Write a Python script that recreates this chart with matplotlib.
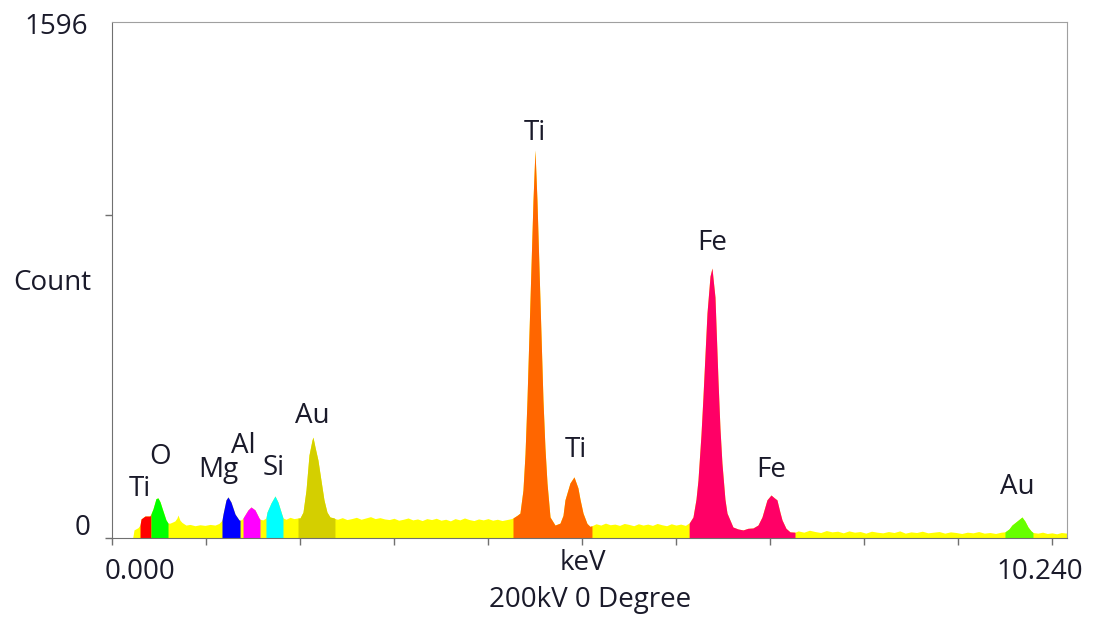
import matplotlib
matplotlib.use("Agg")
import matplotlib.pyplot as plt
import numpy as np

plt.rcParams['font.family'] = ['Open Sans', 'DejaVu Sans']

# ---- spectrum (energy in keV, counts) ----
energy_keV = [
    0.00, 0.20, 0.22, 0.234, 0.277, 0.298, 0.309, 0.351, 0.404, 0.415,
    0.436, 0.468, 0.489, 0.511, 0.532, 0.574, 0.596, 0.617, 0.649, 0.670,
    0.691, 0.702, 0.723, 0.745, 0.787, 0.830, 0.883, 0.936, 0.989, 1.043,
    1.096, 1.138, 1.170, 1.181, 1.213, 1.234, 1.266, 1.309, 1.351, 1.362,
    1.383, 1.394, 1.415, 1.447, 1.479, 1.521, 1.564, 1.574, 1.606, 1.638,
    1.649, 1.691, 1.734, 1.766, 1.809, 1.819, 1.851, 1.894, 1.936, 1.979,
    2.000, 2.032, 2.064, 2.096, 2.128, 2.138, 2.160, 2.191, 2.223, 2.255,
    2.287, 2.319, 2.362, 2.372,
    2.40, 2.45, 2.50, 2.55, 2.60, 2.65, 2.70, 2.75, 2.80, 2.85,
    2.90, 2.95, 3.00, 3.05, 3.10, 3.15, 3.20, 3.25, 3.30, 3.35,
    3.40, 3.45, 3.50, 3.55, 3.60, 3.65, 3.70, 3.75, 3.80, 3.85,
    3.90, 3.95, 4.00, 4.05, 4.10, 4.15, 4.20, 4.25,
    4.266, 4.309, 4.340, 4.372, 4.394, 4.415, 4.447, 4.479, 4.500, 4.521,
    4.553, 4.585, 4.606, 4.628, 4.660, 4.713, 4.766, 4.798, 4.819, 4.872,
    4.915, 4.957, 4.979, 5.011, 5.053, 5.085, 5.106,
    5.15, 5.20, 5.25, 5.30, 5.35, 5.40, 5.45, 5.50, 5.55, 5.60,
    5.65, 5.70, 5.75, 5.80, 5.85, 5.90, 5.95, 6.00, 6.05, 6.10, 6.13,
    6.140, 6.181, 6.213, 6.234, 6.266, 6.287, 6.330, 6.362, 6.383, 6.415,
    6.447, 6.468, 6.489, 6.521, 6.543, 6.606, 6.660, 6.713, 6.766, 6.819,
    6.872, 6.915, 6.968, 7.011, 7.043, 7.074, 7.106, 7.128, 7.170, 7.213,
    7.266,
    7.30, 7.36, 7.42, 7.48, 7.54, 7.60, 7.66, 7.72, 7.78, 7.84,
    7.90, 7.96, 8.02, 8.08, 8.14, 8.20, 8.26, 8.32, 8.38, 8.44,
    8.50, 8.56, 8.62, 8.68, 8.74, 8.80, 8.86, 8.92, 8.98, 9.04,
    9.10, 9.16, 9.22, 9.28, 9.34, 9.40, 9.46,
    9.50, 9.543, 9.574, 9.617, 9.660, 9.681, 9.713, 9.745, 9.777, 9.798,
    9.85, 9.90, 9.95, 10.00, 10.05, 10.10, 10.16,
]
counts = [
    0, 0, 0, 25, 32, 40, 59, 68, 68, 75,
    90, 122, 124, 112, 93, 56, 46, 46, 50, 53,
    62, 71, 55, 48, 40, 42, 38, 41, 39, 42,
    40, 45, 55, 74, 118, 127, 111, 74, 56, 55,
    58, 62, 72, 87, 96, 87, 62, 58, 56, 62,
    80, 108, 130, 111, 71, 62, 58, 64, 60, 62,
    62, 80, 148, 257, 303, 312, 281, 241, 179, 118,
    80, 65, 62, 60,
    58, 63, 57, 60, 64, 58, 62, 66, 60, 63,
    59, 57, 61, 55, 58, 62, 56, 59, 54, 60,
    57, 61, 55, 58, 53, 60, 56, 62, 57, 54,
    59, 56, 60, 55, 58, 54, 57, 60,
    62, 70, 77, 148, 260, 427, 736, 1045, 1200, 1045,
    736, 427, 280, 170, 65, 40, 46, 70, 118, 170,
    189, 155, 120, 77, 45, 36, 38,
    44, 40, 46, 41, 43, 39, 45, 42, 38, 44,
    40, 43, 39, 45, 41, 38, 44, 40, 43, 39, 45,
    46, 65, 120, 179, 320, 436, 696, 810, 835, 745,
    489, 340, 232, 120, 77, 34, 28, 25, 30, 31,
    40, 65, 118, 133, 125, 118, 80, 56, 30, 19,
    18,
    22, 18, 24, 20, 17, 23, 19, 21, 16, 22,
    18, 20, 15, 21, 18, 16, 20, 17, 22, 15,
    19, 17, 21, 16, 18, 20, 15, 19, 17, 14,
    18, 16, 20, 15, 17, 14, 18,
    19, 28, 40, 50, 60, 65, 52, 34, 22, 17,
    15, 18, 14, 16, 13, 17, 15,
]

# ---- element regions of interest (keV) ----
roi_start = [0.298, 0.415, 1.170, 1.394, 1.638, 1.979, 4.266, 6.140, 9.500]
roi_end   = [0.415, 0.596, 1.362, 1.574, 1.819, 2.372, 5.106, 7.266, 9.798]
roi_color = ['#FF0000', '#00FF00', '#0000FF', '#FF00FF', '#00FFFF',
             '#D4CF00', '#FF6600', '#FF0066', '#66FF00']

# ---- peak labels ----
label_text = ['Ti', 'O', 'Mg', 'Al', 'Si', 'Au', 'Ti', 'Ti', 'Fe', 'Fe', 'Au']
label_keV = [0.298, 0.511, 1.128, 1.394, 1.723, 2.128, 4.500, 4.936, 6.383, 7.011, 9.628]
label_cnt = [152, 250, 210, 285, 217, 377, 1253, 272, 912, 210, 158]

y_max = 1596
x_max = 10.16

E = np.array(energy_keV)
C = np.array(counts)

fig = plt.figure(figsize=(10.97, 6.17), dpi=100)
ax = fig.add_axes([112 / 1097, 1 - 538 / 617, (1067 - 112) / 1097, (538 - 22) / 617])

ax.fill_between(E, 0, C, color='#FFFF00', linewidth=0)
for lo, hi, col in zip(roi_start, roi_end, roi_color):
    m = (E >= lo - 1e-9) & (E <= hi + 1e-9)
    ax.fill_between(E[m], 0, C[m], color=col, linewidth=0)

fs = 20
for t, x, y in zip(label_text, label_keV, label_cnt):
    ax.text(x, y, t, ha='center', va='center', fontsize=fs, color='#1a1a2a')

ax.set_xlim(0, x_max)
ax.set_ylim(0, y_max)
ax.set_xticks(range(0, 11))
ax.set_xticklabels([])
ax.set_yticks([0, 1000])
ax.set_yticklabels([])
ax.tick_params(axis='both', direction='out', length=5, width=1, color='#707070')
for s in ['left', 'bottom']:
    ax.spines[s].set_color('#707070')
for s in ['top', 'right']:
    ax.spines[s].set_color('#a0a0a0')

tc = '#1a1a2a'
fig.text(88 / 1097, 1 - 27 / 617, '1596', ha='right', va='center', fontsize=fs, color=tc)
fig.text(90 / 1097, 1 - 528 / 617, '0', ha='right', va='center', fontsize=fs, color=tc)
fig.text(52 / 1097, 1 - 283 / 617, 'Count', ha='center', va='center', fontsize=fs, color=tc)
fig.text(140 / 1097, 1 - 572 / 617, '0.000', ha='center', va='center', fontsize=fs, color=tc)
fig.text(1040 / 1097, 1 - 572 / 617, '10.240', ha='center', va='center', fontsize=fs, color=tc)
fig.text(583 / 1097, 1 - 563 / 617, 'keV', ha='center', va='center', fontsize=fs, color=tc)
fig.text(590 / 1097, 1 - 600 / 617, '200kV 0 Degree', ha='center', va='center', fontsize=fs, color=tc)

fig.savefig('out.png', dpi=100, facecolor='white')
